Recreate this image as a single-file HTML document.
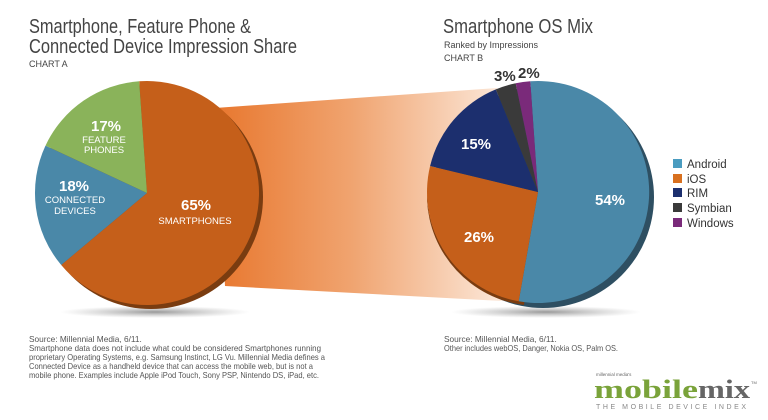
<!DOCTYPE html>
<html><head><style>body{margin:0;background:#fff}svg{display:block}</style></head><body>
<svg width="768" height="420" viewBox="0 0 768 420" xmlns="http://www.w3.org/2000/svg" font-family="Liberation Sans, sans-serif">
<defs>
<linearGradient id="fg" x1="0" x2="1" y1="0" y2="0">
<stop offset="0" stop-color="#e8772e"/><stop offset="0.45" stop-color="#f0a470"/><stop offset="1" stop-color="#fdf0e6"/></linearGradient>
<radialGradient id="sh" cx="0.5" cy="0.5" r="0.5"><stop offset="0" stop-color="#555" stop-opacity="0.6"/><stop offset="1" stop-color="#888" stop-opacity="0"/></radialGradient>
</defs>
<rect width="768" height="420" fill="#fff"/>
<!-- funnel -->
<polygon points="215,108 497,88 520,302 225,286" fill="url(#fg)"/>
<!-- shadows -->
<ellipse cx="155" cy="312" rx="95" ry="6" fill="url(#sh)"/>
<ellipse cx="546" cy="312" rx="95" ry="6" fill="url(#sh)"/>
<!-- left pie depth -->
<circle cx="151" cy="197" r="112" fill="#7a3c10"/>
<!-- left pie: center 147,193 r112 -->
<path d="M147,193 L139.2,81.3 A112,112 0 1 1 61.2,265 Z" fill="#c55f1a"/>
<path d="M147,193 L61.2,265 A112,112 0 0 1 45.5,145.6 Z" fill="#4a88a8"/>
<path d="M147,193 L45.5,145.6 A112,112 0 0 1 139.2,81.3 Z" fill="#8ab35a"/>
<!-- right pie depth -->
<circle cx="543" cy="197" r="111" fill="#2e4f62"/>
<path d="M538,192 L520,301 A111,111 0 0 1 427,195 L427,200 A111,111 0 0 0 524,305 Z" fill="#7a3c10"/>
<!-- right pie center 538,192 r111 -->
<path d="M538,192 L530.3,81.3 A111,111 0 1 1 518.7,301.3 Z" fill="#4a88a8"/>
<path d="M538,192 L518.7,301.3 A111,111 0 0 1 430.1,166 Z" fill="#c55f1a"/>
<path d="M538,192 L430.1,166 A111,111 0 0 1 495.8,89.4 Z" fill="#1c2f6e"/>
<path d="M538,192 L495.8,89.4 A111,111 0 0 1 515.7,83.3 Z" fill="#3a3a3a"/>
<path d="M538,192 L515.7,83.3 A111,111 0 0 1 530.3,81.3 Z" fill="#7a2a7a"/>
<!-- pie labels -->
<g fill="#fff" text-anchor="middle">
<text x="106" y="131" font-size="15" font-weight="bold">17%</text>
<text x="104" y="143" font-size="9.5">FEATURE</text>
<text x="104" y="153" font-size="9.5">PHONES</text>
<text x="74" y="191" font-size="15" font-weight="bold">18%</text>
<text x="75" y="203" font-size="9.5">CONNECTED</text>
<text x="75" y="214" font-size="9.5">DEVICES</text>
<text x="196" y="210" font-size="15" font-weight="bold">65%</text>
<text x="195" y="224" font-size="9.5">SMARTPHONES</text>
<text x="476" y="149" font-size="15" font-weight="bold">15%</text>
<text x="479" y="242" font-size="15" font-weight="bold">26%</text>
<text x="610" y="205" font-size="15" font-weight="bold">54%</text>
</g>
<g fill="#333" font-size="15" font-weight="bold">
<text x="494" y="81">3%</text><text x="518" y="78">2%</text></g>
<!-- titles -->
<g fill="#444">
<text x="29" y="33" font-size="20" textLength="222" lengthAdjust="spacingAndGlyphs">Smartphone, Feature Phone &amp;</text>
<text x="29" y="53" font-size="20" textLength="268" lengthAdjust="spacingAndGlyphs">Connected Device Impression Share</text>
<text x="29" y="67" font-size="9">CHART A</text>
<text x="443" y="33" font-size="20" textLength="150" lengthAdjust="spacingAndGlyphs">Smartphone OS Mix</text>
<text x="444" y="48" font-size="9">Ranked by Impressions</text>
<text x="444" y="61" font-size="9">CHART B</text>
</g>
<!-- legend -->
<g font-size="11.5" fill="#333">
<rect x="673" y="159" width="9" height="9" fill="#4a9cc0"/><text x="687" y="168">Android</text>
<rect x="673" y="174" width="9" height="9" fill="#d8701f"/><text x="687" y="183">iOS</text>
<rect x="673" y="188" width="9" height="9" fill="#1c2f6e"/><text x="687" y="197">RIM</text>
<rect x="673" y="203" width="9" height="9" fill="#3a3a3a"/><text x="687" y="212">Symbian</text>
<rect x="673" y="218" width="9" height="9" fill="#7a2a7a"/><text x="687" y="227">Windows</text>
</g>
<!-- footnotes -->
<g font-size="8.3" fill="#555">
<text x="29" y="342">Source: Millennial Media, 6/11.</text>
<text x="29" y="351" textLength="292" lengthAdjust="spacingAndGlyphs">Smartphone data does not include what could be considered Smartphones running</text>
<text x="29" y="360" textLength="296" lengthAdjust="spacingAndGlyphs">proprietary Operating Systems, e.g. Samsung Instinct, LG Vu. Millennial Media defines a</text>
<text x="29" y="369" textLength="284" lengthAdjust="spacingAndGlyphs">Connected Device as a handheld device that can access the mobile web, but is not a</text>
<text x="29" y="378" textLength="290" lengthAdjust="spacingAndGlyphs">mobile phone. Examples include Apple iPod Touch, Sony PSP, Nintendo DS, iPad, etc.</text>
<text x="444" y="342">Source: Millennial Media, 6/11.</text>
<text x="444" y="351" textLength="174" lengthAdjust="spacingAndGlyphs">Other includes webOS, Danger, Nokia OS, Palm OS.</text>
</g>
<!-- logo -->
<text x="596" y="376" font-size="4.5" fill="#666">millennial media's</text>
<text x="594" y="398" font-size="26" font-weight="bold" font-family="Liberation Serif, serif" fill="#7aa33a" textLength="104" lengthAdjust="spacingAndGlyphs">mobile</text>
<text x="698" y="398" font-size="26" font-weight="bold" font-family="Liberation Serif, serif" fill="#666" textLength="52" lengthAdjust="spacingAndGlyphs">mix</text>
<text x="751" y="384" font-size="4" fill="#666">TM</text>
<text x="596" y="409" font-size="7" fill="#888" textLength="150" lengthAdjust="spacing">THE MOBILE DEVICE INDEX</text>
</svg>
</body></html>
